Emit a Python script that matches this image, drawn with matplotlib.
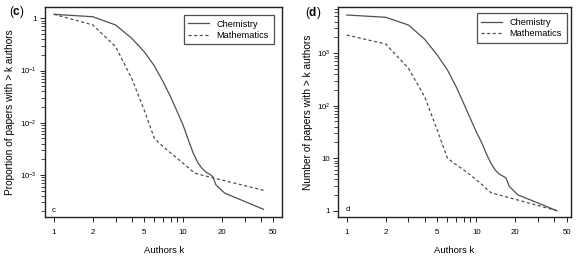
import matplotlib
matplotlib.use("Agg")
import matplotlib.pyplot as plt
from matplotlib.ticker import FixedLocator, NullFormatter, FixedFormatter
from matplotlib.lines import Line2D

plt.rcParams['font.family'] = ['Liberation Sans', 'DejaVu Sans']
plt.rcParams['mathtext.fontset'] = 'custom'
plt.rcParams['mathtext.rm'] = 'Liberation Sans'
plt.rcParams['mathtext.bf'] = 'Liberation Sans:bold'

# ---------------- data ----------------
k_chem = [1, 2, 3, 4, 5, 6, 7, 8, 9, 10, 11, 12, 13, 14, 15, 16, 17, 18, 21, 42]
chem_prop = [1.19, 1.07, 0.744, 0.414, 0.229, 0.122, 0.0609, 0.0316, 0.0163, 0.00904,
             0.00466, 0.00259, 0.00173, 0.00134, 0.00114, 0.00104, 0.00093, 0.00064,
             0.00045, 0.00022]
chem_count = [5340, 4830, 3440, 1840, 925, 479, 230, 111, 57.5, 32,
              20, 12, 8, 6, 5, 4.6, 4.2, 2.9, 2, 1]

k_math = [1, 2, 3, 4, 5, 6, 7, 8, 9, 10, 11, 12, 13, 42]
math_prop = [1.19, 0.744, 0.286, 0.0708, 0.0175, 0.0050, 0.0035, 0.00265, 0.00209,
             0.00168, 0.00138, 0.00114, 0.00104, 0.00051]
math_count = [2220, 1496, 515, 148, 34.4, 10, 7.5, 6.0, 4.8, 3.9, 3.2, 2.6, 2.2, 1]

x_ticks = [1, 2, 3, 4, 5, 6, 7, 8, 9, 10, 20, 30, 40, 50]
x_ticklabels = ['1', '2', '', '', '5', '', '', '', '', '10', '20', '', '', '50']

left_yticks = [1, 0.1, 0.01, 0.001]
left_yticklabels = ['1', r'$\mathregular{10^{-1}}$', r'$\mathregular{10^{-2}}$', r'$\mathregular{10^{-3}}$']
right_yticks = [1, 10, 100, 1000]
right_yticklabels = ['1', '10', r'$\mathregular{10^{2}}$', r'$\mathregular{10^{3}}$']

series_labels = ['Chemistry', 'Mathematics']

W, H = 580, 262
fig = plt.figure(figsize=(W / 100, H / 100), dpi=100)


def px_axes(x0, y0, x1, y1):
    return fig.add_axes([x0 / W, 1 - y1 / H, (x1 - x0) / W, (y1 - y0) / H])


line_col = '#505050'
fs_tick = 5.6
fs_lab = 6.8


def minor_y(lo_exp, hi_exp):
    vals = []
    for e in range(lo_exp, hi_exp + 1):
        for m in range(2, 10):
            vals.append(m * 10.0 ** e)
    return vals


def style(ax, xlim, ylim, yticks, yticklabels, yminor):
    ax.set_xscale('log')
    ax.set_yscale('log')
    ax.set_xlim(*xlim)
    ax.set_ylim(*ylim)
    ax.xaxis.set_major_locator(FixedLocator(x_ticks))
    ax.xaxis.set_major_formatter(FixedFormatter(x_ticklabels))
    ax.xaxis.set_minor_locator(FixedLocator([]))
    ax.yaxis.set_major_locator(FixedLocator(yticks))
    ax.yaxis.set_major_formatter(FixedFormatter(yticklabels))
    ax.yaxis.set_minor_locator(FixedLocator(yminor))
    ax.yaxis.set_minor_formatter(NullFormatter())
    ax.tick_params(axis='x', which='major', length=3.8, width=0.6, pad=4.5,
                   labelsize=fs_tick, direction='out')
    ax.tick_params(axis='y', which='major', length=3.8, width=0.6, pad=2.2,
                   labelsize=fs_tick, direction='out')
    ax.tick_params(axis='y', which='minor', length=2.6, width=0.5, direction='out')
    for s in ax.spines.values():
        s.set_linewidth(1.0)
        s.set_color('#222222')


def add_legend(ax, anchor):
    handles = [Line2D([], [], color=line_col, lw=0.9, ls='-'),
               Line2D([], [], color=line_col, lw=0.9, ls=(0, (2.5, 2)))]
    leg = ax.legend(handles, series_labels, loc='upper right',
                    bbox_to_anchor=anchor, bbox_transform=fig.transFigure,
                    fontsize=6.6, frameon=True, fancybox=False,
                    handlelength=2.3, handletextpad=0.8, borderpad=0.5,
                    labelspacing=0.25, borderaxespad=0)
    leg.get_frame().set_edgecolor('#222222')
    leg.get_frame().set_linewidth(0.9)
    return leg


# ---------------- left panel ----------------
ax1 = px_axes(45, 7.3, 282.3, 217.3)
ax1.plot(k_chem, chem_prop, color=line_col, lw=0.9, ls='-')
ax1.plot(k_math, math_prop, color=line_col, lw=0.9, ls=(0, (2.5, 2)))
style(ax1, (0.852, 58.7), (10 ** -3.81, 10 ** 0.21), left_yticks, left_yticklabels,
      minor_y(-4, 0))
add_legend(ax1, (273.5 / W, 1 - 15 / H))
ax1.text(0.5, -0.156, 'Authors k', transform=ax1.transAxes, ha='center', va='center',
         fontsize=fs_lab)
ax1.text(-0.147, 0.5, 'Proportion of papers with > k authors', transform=ax1.transAxes,
         ha='center', va='center', rotation=90, fontsize=7.3)
ax1.text(0.035, 0.031, 'c', transform=ax1.transAxes, ha='center', va='center',
         fontsize=5.5)
fig.text(16.5 / W, 1 - 11.5 / H, r'($\mathbf{c}$)', ha='center', va='center', fontsize=8.5)

# ---------------- right panel ----------------
ax2 = px_axes(338.3, 7.3, 570.5, 217.3)
ax2.plot(k_chem, chem_count, color=line_col, lw=0.9, ls='-')
ax2.plot(k_math, math_count, color=line_col, lw=0.9, ls=(0, (2.5, 2)))
style(ax2, (0.861, 53.5), (10 ** -0.126, 10 ** 3.874), right_yticks, right_yticklabels,
      minor_y(0, 3))
add_legend(ax2, (566.5 / W, 1 - 13.3 / H))
ax2.text(0.5, -0.156, 'Authors k', transform=ax2.transAxes, ha='center', va='center',
         fontsize=fs_lab)
ax2.text(-0.131, 0.5, 'Number of papers with > k authors', transform=ax2.transAxes,
         ha='center', va='center', rotation=90, fontsize=7.3)
ax2.text(0.039, 0.038, 'd', transform=ax2.transAxes, ha='center', va='center',
         fontsize=5.5)
fig.text(313.5 / W, 1 - 13 / H, r'($\mathbf{d}$)', ha='center', va='center', fontsize=8.5)

fig.savefig('out.png', dpi=100)
